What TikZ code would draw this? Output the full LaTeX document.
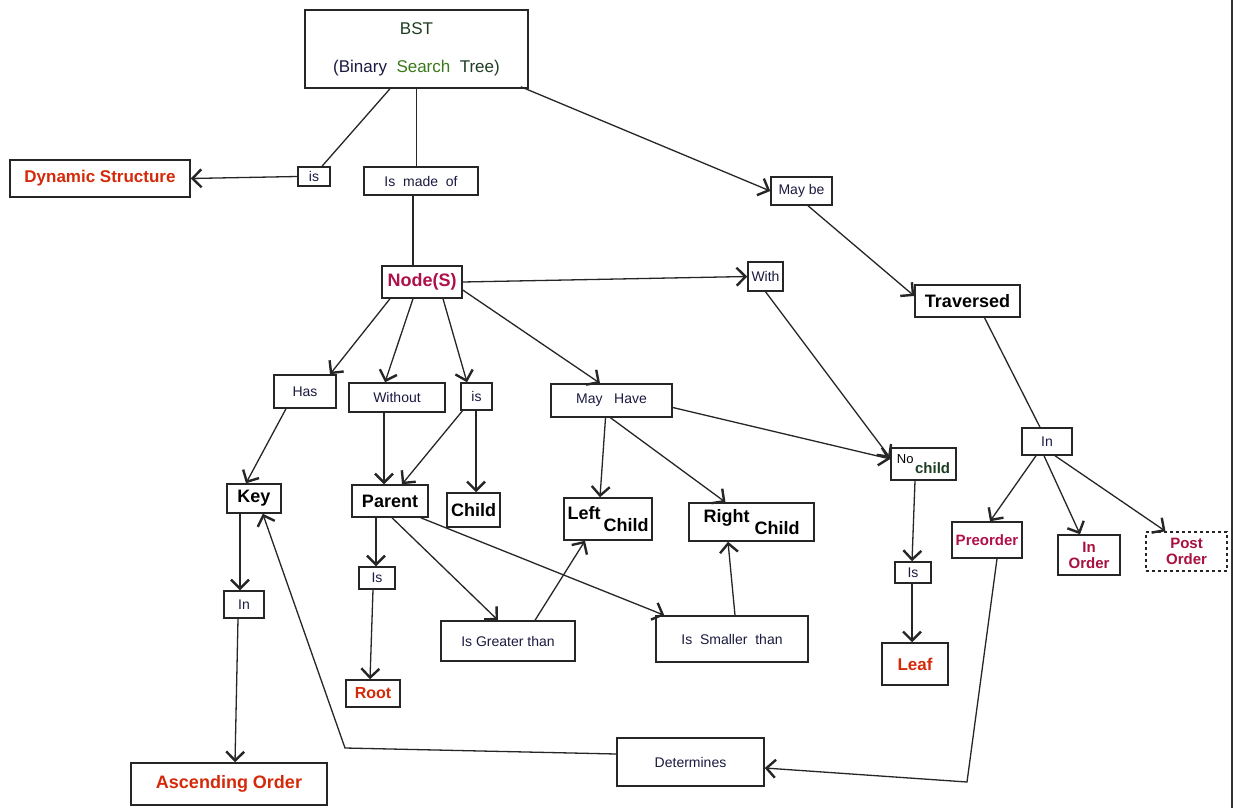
\documentclass[tikz,border=0pt]{standalone}
\usepackage{fontspec}
\setmainfont{Liberation Sans}
\usetikzlibrary{arrows.meta}
\definecolor{redt}{HTML}{D42A0A}
\definecolor{magt}{HTML}{B0104A}
\definecolor{crim}{HTML}{A8103F}
\definecolor{grnt}{HTML}{3A7A1A}
\definecolor{dgrn}{HTML}{1E3E22}
\definecolor{navy}{HTML}{1A1A40}
\begin{document}
\begin{tikzpicture}[x=1pt,y=-1pt,
  bx/.style={draw=black!85, line width=1.5pt, inner sep=0pt, align=center},
  sm/.style={font=\fontsize{14}{16}\selectfont, text=navy},
  bg/.style={font=\fontsize{18}{20}\selectfont\bfseries},
  arr/.style={-{Straight Barb[length=9pt,width=18pt,line width=2.4pt]}, line width=1.3pt, draw=black!85},
  ln/.style={line width=1.3pt, draw=black!85}]
\useasboundingbox (0,0) rectangle (1239,808);
\fill[white] (0,0) rectangle (1239,808);
\draw[line width=1.5pt, black!80] (1232,0) -- (1232,808);

% nodes
\node[bx, minimum width=223pt, minimum height=78pt, font=\fontsize{17}{20}\selectfont] (bst) at (416.5,49)
  {\textcolor{dgrn}{BST}\\[18pt]\textcolor{navy}{(Binary}\ \ \textcolor{grnt}{Search}\ \ \textcolor{dgrn}{Tree)}};
\node[bx, sm, minimum width=32pt, minimum height=19pt] (isA) at (314,176.5) {is};
\node[bx, text=redt, minimum width=180pt, minimum height=37pt, font=\fontsize{17}{19}\selectfont\bfseries] (dyn) at (100,178.5) {Dynamic Structure};
\node[bx, sm, minimum width=114pt, minimum height=28pt] (made) at (421,181) {Is\ \ made\ \ of};
\node[bx, sm, minimum width=61pt, minimum height=28pt] (maybe) at (801.5,191) {May be};
\node[bx, bg, text=magt, minimum width=80pt, minimum height=32pt] (nodes) at (422,282) {Node(S)};
\node[bx, sm, minimum width=35pt, minimum height=29pt] (with) at (765.5,276.5) {With};
\node[bx, bg, text=black, minimum width=105pt, minimum height=32pt] (trav) at (967.5,301) {Traversed};
\node[bx, sm, minimum width=62pt, minimum height=33pt] (has) at (305,391.5) {Has};
\node[bx, sm, minimum width=96pt, minimum height=29pt] (without) at (397,397.5) {Without};
\node[bx, sm, minimum width=31pt, minimum height=27pt] (isB) at (476.5,396.5) {is};
\node[bx, sm, minimum width=121pt, minimum height=33pt] (mayhave) at (611.5,400.5) {May\ \ \ Have};
\node[bx, minimum width=65pt, minimum height=32pt] (nochild) at (923.5,464)
  {\raisebox{5pt}{\fontsize{13}{15}\selectfont No}\,\raisebox{-5pt}{\fontsize{15}{17}\selectfont\bfseries\textcolor{dgrn}{child}}};
\node[bx, sm, minimum width=50pt, minimum height=27pt] (inR) at (1047,441.5) {In};
\node[bx, bg, minimum width=54pt, minimum height=29pt] (key) at (254,498.5) {Key};
\node[bx, bg, minimum width=76pt, minimum height=32pt] (parent) at (390,501) {Parent};
\node[bx, bg, minimum width=53pt, minimum height=34pt] (child) at (473.5,510) {Child};
\node[bx, bg, minimum width=88pt, minimum height=42pt] (left) at (608,519)
  {\raisebox{6pt}{Left}\,\raisebox{-6pt}{Child}};
\node[bx, bg, minimum width=125pt, minimum height=38pt] (right) at (751.5,522)
  {\raisebox{6pt}{Right}\ \raisebox{-6pt}{Child}};
\node[bx, text=magt, minimum width=70pt, minimum height=36pt, font=\fontsize{15}{17}\selectfont\bfseries] (pre) at (987,540) {Preorder};
\node[bx, text=crim, minimum width=62pt, minimum height=40pt, font=\fontsize{15}{16}\selectfont\bfseries] (inord) at (1089,555) {In\\Order};
\node[bx, dashed, text=crim, minimum width=81pt, minimum height=39pt, font=\fontsize{15}{16}\selectfont\bfseries] (post) at (1186.5,551.5) {Post\\Order};
\node[bx, sm, minimum width=36pt, minimum height=22pt] (isP) at (377,578) {Is};
\node[bx, sm, minimum width=40pt, minimum height=27pt] (inK) at (244,604.5) {In};
\node[bx, sm, minimum width=134pt, minimum height=40pt] (gt) at (508,641) {Is\ Greater\ than};
\node[bx, sm, minimum width=152pt, minimum height=46pt] (st) at (732,639) {Is\ \ Smaller\ \ than};
\node[bx, sm, minimum width=36pt, minimum height=21pt] (isN) at (913,572.5) {Is};
\node[bx, text=redt, minimum width=66pt, minimum height=42pt, font=\fontsize{17}{19}\selectfont\bfseries] (leaf) at (915,664) {Leaf};
\node[bx, text=redt, minimum width=54pt, minimum height=27pt, font=\fontsize{16}{18}\selectfont\bfseries] (root) at (373,693.5) {Root};
\node[bx, sm, minimum width=147pt, minimum height=48pt] (det) at (690.5,762) {Determines};
\node[bx, bg, text=redt, minimum width=196pt, minimum height=42pt] (asc) at (229,784) {Ascending Order};

\coordinate (c1) at (967,782);
\coordinate (c2) at (345,748);

% connectors
\draw[ln] ([xshift=-26.5pt]bst.south) -- ([xshift=8pt]isA.north);
\draw[arr] (isA.west) -- (dyn.east);
\draw[ln] (bst.south) -- (bst.south |- made.north);
\draw[ln] ([xshift=-8pt]made.south) -- ([xshift=-9pt]nodes.north);
\draw[arr] ([xshift=-8pt,yshift=2pt]bst.south east) -- (maybe.west);
\draw[arr] ([xshift=6.5pt]maybe.south) -- ([yshift=5pt]trav.west);
\draw[arr] (nodes.east) -- (with.west);
\draw[arr] (with.south) -- ([yshift=6pt]nochild.west);
\draw[arr] ([yshift=-7pt]mayhave.east) -- ([yshift=5pt]nochild.west);
\draw[arr] ([xshift=-32pt]nodes.south) -- ([xshift=25pt]has.north);
\draw[arr] ([xshift=-9pt]nodes.south) -- ([xshift=-12pt]without.north);
\draw[arr] ([xshift=21pt]nodes.south) -- ([xshift=-9.5pt]isB.north);
\draw[arr] ([yshift=-8pt]nodes.east) -- ([xshift=-11.5pt]mayhave.north);
\draw[arr] ([xshift=-19pt]has.south) -- ([xshift=-8pt]key.north);
\draw[arr] ([xshift=-13pt]without.south) -- ([xshift=-6pt]parent.north);
\draw[arr] ([xshift=-14pt]isB.south) -- ([xshift=12pt]parent.north);
\draw[arr] ([xshift=-0.5pt]isB.south) -- ([xshift=2.5pt]child.north);
\draw[arr] ([xshift=-6pt]mayhave.south) -- ([xshift=-8pt]left.north);
\draw[arr] ([xshift=-1pt]mayhave.south) -- ([xshift=-26pt]right.north);
\draw[ln] ([xshift=17pt]trav.south) -- ([xshift=-7pt]inR.north);
\draw[arr] ([xshift=-11pt]inR.south) -- ([xshift=3pt]pre.north);
\draw[arr] ([xshift=-3pt]inR.south) -- ([xshift=-9pt]inord.north);
\draw[arr] ([xshift=8pt]inR.south) -- ([xshift=-21pt]post.north);
\draw[arr] ([xshift=-8.5pt]nochild.south) -- ([xshift=-1pt]isN.north);
\draw[arr] ([xshift=-1pt]isN.south) -- ([xshift=-3pt]leaf.north);
\draw[arr] ([xshift=-14pt]key.south) -- ([xshift=-4pt]inK.north);
\draw[arr] ([xshift=-6pt]inK.south) -- ([xshift=6pt]asc.north);
\draw[arr] ([xshift=-14pt]parent.south) -- ([xshift=-1pt]isP.north);
\draw[arr] ([xshift=-4pt]isP.south) -- ([xshift=-3pt]root.north);
\draw[arr] ([xshift=2pt]parent.south) -- ([xshift=-10pt]gt.north);
\draw[arr] ([xshift=-8pt]parent.south east) -- ([xshift=9pt]st.north west);
\draw[arr] ([xshift=27pt]gt.north) -- ([xshift=-23pt]left.south);
\draw[arr] ([xshift=3pt]st.north) -- ([xshift=-23.5pt]right.south);
\draw[arr] ([xshift=10pt]pre.south) -- (c1) -- ([yshift=-6pt]det.east);
\draw[arr] ([yshift=8pt]det.west) -- (c2) -- ([xshift=-19pt]key.south east);
\end{tikzpicture}
\end{document}
